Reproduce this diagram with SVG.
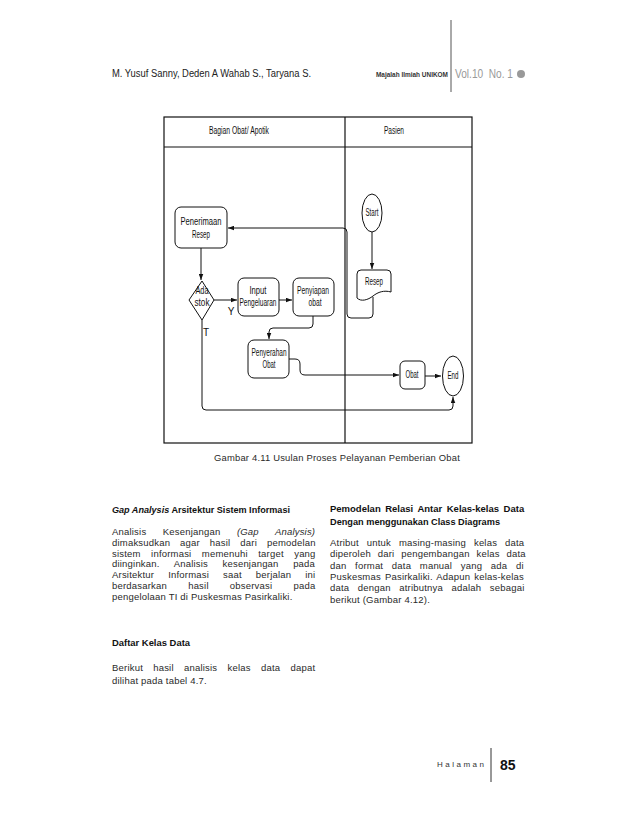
<svg xmlns="http://www.w3.org/2000/svg" width="638" height="826" viewBox="0 0 638 826">
<defs>
<style>
.dg{font-family:"Liberation Sans Narrow","Liberation Sans",Arial,sans-serif;font-size:10px;fill:#111;text-anchor:middle}
.nd{fill:#fff;stroke:#111;stroke-width:1}
.cn{fill:none;stroke:#111;stroke-width:1}
.ln{fill:none;stroke:#111;stroke-width:1.2}
.bd{font-family:"Liberation Sans",Arial,sans-serif;font-size:9.5px;fill:#2a2a2a;letter-spacing:0.2px}
.hd{font-family:"Liberation Sans",Arial,sans-serif;font-size:9.5px;font-weight:bold;fill:#111}
</style>
<marker id="ar" markerUnits="userSpaceOnUse" markerWidth="6" markerHeight="5" viewBox="0 0 8 6" refX="8" refY="3" orient="auto">
<path d="M0,0 L8,3 L0,6 z" fill="#111"/>
</marker>
</defs>
<rect width="638" height="826" fill="#fff"/>

<g id="page-header">
<text x="112" y="77" font-family="Liberation Sans,Arial,sans-serif" font-size="10" fill="#222" textLength="199" lengthAdjust="spacingAndGlyphs">M. Yusuf Sanny, Deden A Wahab S., Taryana S.</text>
<text x="376" y="77" font-family="Liberation Sans,Arial,sans-serif" font-size="7" font-weight="bold" fill="#333" textLength="72" lengthAdjust="spacingAndGlyphs">Majalah Ilmiah UNIKOM</text>
<line x1="451" y1="20" x2="451" y2="92" stroke="#555" stroke-width="1"/>
<text x="455" y="78" font-family="Liberation Sans,Arial,sans-serif" font-size="12" fill="#999" textLength="58" lengthAdjust="spacingAndGlyphs" xml:space="preserve">Vol.10  No. 1</text>
<circle cx="521" cy="74" r="4" fill="#999"/>
</g>

<g id="swimlanes">
<rect x="164" y="117" width="308" height="326" class="ln"/>
<line x1="164" y1="147" x2="472" y2="147" class="ln"/>
<line x1="345" y1="117" x2="345" y2="443" class="ln"/>
<text x="239" y="134" class="dg" textLength="60" lengthAdjust="spacingAndGlyphs">Bagian Obat/ Apotik</text>
<text x="394" y="134" class="dg" textLength="20" lengthAdjust="spacingAndGlyphs">Pasien</text>
</g>

<g id="connectors">
<path class="cn" d="M372 232 V269" marker-end="url(#ar)"/>
<path class="cn" d="M373 297 V314 Q373 318 369 318 H351 Q347 318 347 314 V232 Q347 228 343 228 H228" marker-end="url(#ar)"/>
<path class="cn" d="M201 248 V280" marker-end="url(#ar)"/>
<path class="cn" d="M214 300 H237" marker-end="url(#ar)"/>
<path class="cn" d="M279 300 H292" marker-end="url(#ar)"/>
<path class="cn" d="M313 316 V324 Q313 328 309 328 H273 Q269 328 269 332 V339" marker-end="url(#ar)"/>
<path class="cn" d="M289 359 H295 Q300 359 300 364 V370 Q300 375 305 375 H399" marker-end="url(#ar)"/>
<path class="cn" d="M425 376 H441" marker-end="url(#ar)"/>
<path class="cn" d="M202 320 V406 Q202 410 206 410 H449 Q453 410 453 406 V397" marker-end="url(#ar)"/>
<text x="231" y="315" class="dg">Y</text>
<text x="206" y="336" class="dg">T</text>
</g>

<g id="node-start">
<ellipse cx="372" cy="213" rx="10" ry="19" class="nd"/>
<text x="372" y="216" class="dg" textLength="13" lengthAdjust="spacingAndGlyphs">Start</text>
</g>

<g id="node-resep">
<path class="nd" d="M361 270 H387 Q391 270 391 274 V292 C384 290 378 292 373 296 C368 300 361 302 357 298 V274 Q357 270 361 270 Z"/>
<text x="374" y="285" class="dg" textLength="18" lengthAdjust="spacingAndGlyphs">Resep</text>
</g>

<g id="node-penerimaan">
<rect x="175" y="207" width="52" height="41" rx="6" class="nd"/>
<text x="201" y="225" class="dg" textLength="41" lengthAdjust="spacingAndGlyphs">Penerimaan</text>
<text x="201" y="238" class="dg" textLength="18" lengthAdjust="spacingAndGlyphs">Resep</text>
</g>

<g id="node-ada-stok">
<path class="nd" stroke-linejoin="round" d="M202 281 L214 300 L202 320 L189 300 Z"/>
<text x="202" y="294" class="dg" textLength="13" lengthAdjust="spacingAndGlyphs">Ada</text>
<text x="202" y="306" class="dg" textLength="15" lengthAdjust="spacingAndGlyphs">stok</text>
</g>

<g id="node-input">
<rect x="238" y="278" width="41" height="38" rx="6" class="nd"/>
<text x="258" y="294" class="dg" textLength="17" lengthAdjust="spacingAndGlyphs">Input</text>
<text x="258" y="306" class="dg" textLength="37" lengthAdjust="spacingAndGlyphs">Pengeluaran</text>
</g>

<g id="node-penyiapan">
<rect x="293" y="278" width="41" height="38" rx="6" class="nd"/>
<text x="313" y="294" class="dg" textLength="32" lengthAdjust="spacingAndGlyphs">Penyiapan</text>
<text x="315" y="306" class="dg" textLength="13" lengthAdjust="spacingAndGlyphs">obat</text>
</g>

<g id="node-penyerahan">
<rect x="248" y="340" width="41" height="38" rx="6" class="nd"/>
<text x="269" y="356" class="dg" textLength="35" lengthAdjust="spacingAndGlyphs">Penyerahan</text>
<text x="269" y="368" class="dg" textLength="13" lengthAdjust="spacingAndGlyphs">Obat</text>
</g>

<g id="node-obat">
<rect x="400" y="361" width="25" height="28" rx="5" class="nd"/>
<text x="412" y="378" class="dg" textLength="13" lengthAdjust="spacingAndGlyphs">Obat</text>
</g>

<g id="node-end">
<ellipse cx="453" cy="376" rx="10.5" ry="20" class="nd"/>
<text x="453" y="379" class="dg" textLength="11" lengthAdjust="spacingAndGlyphs">End</text>
</g>

<g id="page-text">
<text x="214" y="461" class="bd" textLength="246" lengthAdjust="spacingAndGlyphs">Gambar 4.11 Usulan Proses Pelayanan Pemberian Obat</text>

<text x="112" y="513" class="hd" textLength="178" lengthAdjust="spacingAndGlyphs"><tspan font-style="italic">Gap Analysis</tspan> Arsitektur Sistem Informasi</text>

<text x="112" y="535" class="bd" word-spacing="13.6">Analisis Kesenjangan <tspan font-style="italic">(Gap Analysis)</tspan></text>
<text x="112" y="546" class="bd" word-spacing="7.1">dimaksudkan agar hasil dari pemodelan</text>
<text x="112" y="556.5" class="bd" word-spacing="7.6">sistem informasi memenuhi target yang</text>
<text x="112" y="567" class="bd" word-spacing="11.7">diinginkan. Analisis kesenjangan pada</text>
<text x="112" y="578" class="bd" word-spacing="11.2">Arsitektur Informasi saat berjalan ini</text>
<text x="112" y="588.5" class="bd" word-spacing="18.3">berdasarkan hasil observasi pada</text>
<text x="112" y="599.5" class="bd">pengelolaan TI di Puskesmas Pasirkaliki.</text>

<text x="112" y="646" class="hd" textLength="78" lengthAdjust="spacingAndGlyphs">Daftar Kelas Data</text>
<text x="112" y="671" class="bd" word-spacing="7.4">Berikut hasil analisis kelas data dapat</text>
<text x="112" y="684" class="bd">dilihat pada tabel 4.7.</text>

<text x="330" y="512" class="hd" word-spacing="1.9">Pemodelan Relasi Antar Kelas-kelas Data</text>
<text x="330" y="525" class="hd" textLength="170" lengthAdjust="spacingAndGlyphs">Dengan menggunakan Class Diagrams</text>

<text x="330" y="546" class="bd" word-spacing="5.1">Atribut untuk masing-masing kelas data</text>
<text x="330" y="557.3" class="bd" word-spacing="4.0">diperoleh dari pengembangan kelas data</text>
<text x="330" y="568.6" class="bd" word-spacing="5.8">dan format data manual yang ada di</text>
<text x="330" y="579.9" class="bd" word-spacing="1.2">Puskesmas Pasirkaliki. Adapun kelas-kelas</text>
<text x="330" y="591.2" class="bd" word-spacing="5.7">data dengan atributnya adalah sebagai</text>
<text x="330" y="602.5" class="bd">berikut (Gambar 4.12).</text>
</g>

<g id="page-footer">
<text x="437" y="767" font-family="Liberation Sans,Arial,sans-serif" font-size="8" fill="#333" textLength="47" lengthAdjust="spacing">H a l a m a n</text>
<line x1="491" y1="748" x2="491" y2="782" stroke="#333" stroke-width="1"/>
<text x="500" y="770" font-family="Liberation Sans,Arial,sans-serif" font-size="14" font-weight="bold" fill="#111">85</text>
</g>
</svg>
